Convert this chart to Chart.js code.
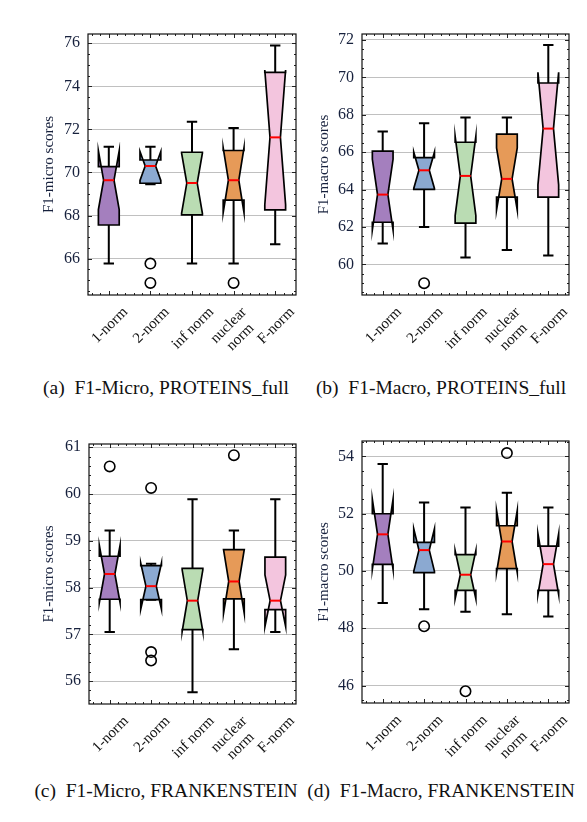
<!DOCTYPE html>
<html>
<head>
<meta charset="utf-8">
<script src="https://cdn.jsdelivr.net/npm/chart.js@4"></script>
<style>
  html, body { margin: 0; padding: 0; background: #fff; }
  body { width: 587px; height: 822px; position: relative; overflow: hidden; font-family: "Liberation Serif", serif; }
  canvas { position: absolute; }
  .caption { position: absolute; width: 290px; text-align: center; font-size: 19.5px; line-height: 22px; color: #111; white-space: pre; }
</style>
</head>
<body>
<canvas id="chartA" width="300" height="370" style="left:0;top:0"></canvas>
<canvas id="chartB" width="287" height="370" style="left:300px;top:0"></canvas>
<canvas id="chartC" width="300" height="370" style="left:0;top:410px"></canvas>
<canvas id="chartD" width="287" height="370" style="left:300px;top:410px"></canvas>
<div class="caption" style="left:21px;top:377px">(a)  F1-Micro, PROTEINS_full</div>
<div class="caption" style="left:296px;top:377px">(b)  F1-Macro, PROTEINS_full</div>
<div class="caption" style="left:21px;top:780px">(c)  F1-Micro, FRANKENSTEIN</div>
<div class="caption" style="left:296px;top:780px">(d)  F1-Macro, FRANKENSTEIN</div>
<script>
// categories (multi-line where the picture wraps)
const categories = [["1-norm"], ["2-norm"], ["inf norm"], ["nuclear", "norm"], ["F-norm"]];

// (a) F1-micro, PROTEINS_full
const protMicroWhiskerLo = [65.77, 69.45, 65.77, 65.77, 66.67];
const protMicroQ1 = [67.56, 69.50, 68.03, 68.72, 68.26];
const protMicroNotchLo = [68.28, 69.63, 68.10, 68.14, 68.50];
const protMicroMedian = [69.64, 70.30, 69.51, 69.64, 71.63];
const protMicroNotchHi = [71.00, 70.97, 70.90, 71.14, 74.76];
const protMicroQ3 = [70.27, 70.58, 70.94, 71.02, 74.65];
const protMicroWhiskerHi = [71.19, 71.19, 72.35, 72.07, 75.90];
const protMicroOutliers = [[], [65.77, 64.87], [], [64.87], []];
const protMicroTicks = [66, 68, 70, 72, 74, 76];

// (b) F1-macro, PROTEINS_full
const protMacroWhiskerLo = [61.11, 62.00, 60.36, 60.77, 60.47];
const protMacroQ1 = [62.25, 64.01, 62.20, 63.60, 63.59];
const protMacroNotchLo = [61.84, 64.06, 62.61, 62.91, 64.25];
const protMacroMedian = [63.73, 65.03, 64.73, 64.57, 67.26];
const protMacroNotchHi = [65.62, 66.00, 66.85, 66.23, 70.27];
const protMacroQ3 = [66.06, 65.71, 66.53, 66.97, 69.70];
const protMacroWhiskerHi = [67.10, 67.54, 67.86, 67.86, 71.73];
const protMacroOutliers = [[], [58.99], [], [], []];
const protMacroTicks = [60, 62, 64, 66, 68, 70, 72];

// (c) F1-micro, FRANKENSTEIN
const frankMicroWhiskerLo = [57.05, 57.74, 55.76, 56.68, 57.05];
const frankMicroQ1 = [57.75, 57.74, 57.10, 57.76, 57.53];
const frankMicroNotchLo = [57.68, 57.54, 57.06, 57.45, 57.17];
const frankMicroMedian = [58.29, 58.03, 57.72, 58.13, 57.72];
const frankMicroNotchHi = [58.90, 58.52, 58.38, 58.81, 58.27];
const frankMicroQ3 = [58.67, 58.47, 58.41, 58.81, 58.65];
const frankMicroWhiskerHi = [59.22, 58.51, 59.89, 59.22, 59.89];
const frankMicroOutliers = [[60.59], [60.13, 56.62, 56.44], [], [60.83], []];
const frankMicroTicks = [56, 57, 58, 59, 60, 61];

// (d) F1-macro, FRANKENSTEIN
const frankMacroWhiskerLo = [48.88, 48.66, 48.58, 48.49, 48.41];
const frankMacroQ1 = [50.23, 49.94, 49.32, 50.08, 49.32];
const frankMacroNotchLo = [50.06, 49.99, 49.03, 49.95, 49.18];
const frankMacroMedian = [51.28, 50.73, 49.87, 51.03, 50.24];
const frankMacroNotchHi = [52.50, 51.47, 50.71, 52.11, 51.30];
const frankMacroQ3 = [52.00, 51.00, 50.57, 51.58, 50.87];
const frankMacroWhiskerHi = [53.74, 52.39, 52.22, 52.73, 52.22];
const frankMacroOutliers = [[], [48.07], [45.80], [54.12], []];
const frankMacroTicks = [46, 48, 50, 52, 54];

const boxColors = ["#a47fbe", "#8ba9d1", "#badcb3", "#e69a58", "#f3c5de"];
const textColor = "#17213d";
const serif = "'Liberation Serif', 'DejaVu Serif', serif";

const statsById = {};

// notched boxes, whiskers, medians and fliers, all placed via the chart scales
const notchedBoxPlugin = {
  id: "notchedBox",
  afterDatasetsDraw(chart) {
    const s = statsById[chart.canvas.id];
    const ctx = chart.ctx;
    const x = chart.scales.x;
    const y = chart.scales.y;
    const step = x.getPixelForValue(1) - x.getPixelForValue(0);
    const hw = step * 0.25;
    const capW = step * 0.125;
    const py = (v) => y.getPixelForValue(v);
    ctx.save();
    s.median.forEach((med, i) => {
      const cx = x.getPixelForValue(i);
      ctx.strokeStyle = "#000";
      ctx.lineWidth = 2;
      ctx.lineCap = "butt";
      ctx.beginPath();
      ctx.moveTo(cx, py(s.q3[i]));
      ctx.lineTo(cx, py(s.whiskerHi[i]));
      ctx.moveTo(cx, py(s.q1[i]));
      ctx.lineTo(cx, py(s.whiskerLo[i]));
      ctx.moveTo(cx - capW, py(s.whiskerHi[i]));
      ctx.lineTo(cx + capW, py(s.whiskerHi[i]));
      ctx.moveTo(cx - capW, py(s.whiskerLo[i]));
      ctx.lineTo(cx + capW, py(s.whiskerLo[i]));
      ctx.stroke();

      // notched box path (flares when the notch passes the quartiles)
      ctx.beginPath();
      ctx.moveTo(cx - hw, py(s.q1[i]));
      ctx.lineTo(cx - hw, py(s.notchLo[i]));
      ctx.lineTo(cx - hw / 2, py(med));
      ctx.lineTo(cx - hw, py(s.notchHi[i]));
      ctx.lineTo(cx - hw, py(s.q3[i]));
      ctx.lineTo(cx + hw, py(s.q3[i]));
      ctx.lineTo(cx + hw, py(s.notchHi[i]));
      ctx.lineTo(cx + hw / 2, py(med));
      ctx.lineTo(cx + hw, py(s.notchLo[i]));
      ctx.lineTo(cx + hw, py(s.q1[i]));
      ctx.closePath();
      ctx.fillStyle = boxColors[i];
      ctx.fill();
      ctx.lineWidth = 1.7;
      ctx.lineJoin = "miter";
      ctx.miterLimit = 20;
      ctx.stroke();

      // median
      ctx.strokeStyle = "#ff0000";
      ctx.lineWidth = 2;
      ctx.beginPath();
      ctx.moveTo(cx - hw / 2, py(med));
      ctx.lineTo(cx + hw / 2, py(med));
      ctx.stroke();

      // outliers
      ctx.strokeStyle = "#000";
      ctx.lineWidth = 1.6;
      s.outliers[i].forEach((v) => {
        ctx.beginPath();
        ctx.arc(cx, py(v), 5.2, 0, Math.PI * 2);
        ctx.stroke();
      });
    });
    ctx.restore();
  },
};

// frame with inward major/minor ticks on all four sides + rotated x labels
const framePlugin = {
  id: "frameTicks",
  afterDraw(chart) {
    const s = statsById[chart.canvas.id];
    const ctx = chart.ctx;
    const { left, right, top, bottom } = chart.chartArea;
    const x = chart.scales.x;
    const y = chart.scales.y;
    ctx.save();
    ctx.strokeStyle = "#222";
    ctx.lineWidth = 1;
    ctx.beginPath();
    const majors = y.ticks.map((t) => t.value);
    majors.forEach((v) => {
      const p = Math.round(y.getPixelForValue(v)) + 0.5;
      ctx.moveTo(left, p); ctx.lineTo(left + 4, p);
      ctx.moveTo(right, p); ctx.lineTo(right - 4, p);
    });
    const n0 = Math.ceil(y.min / s.minor);
    const n1 = Math.floor(y.max / s.minor);
    for (let k = n0; k <= n1; k++) {
      const v = k * s.minor;
      if (majors.some((m) => Math.abs(m - v) < 1e-6)) continue;
      const p = Math.round(y.getPixelForValue(v)) + 0.5;
      ctx.moveTo(left, p); ctx.lineTo(left + 2, p);
      ctx.moveTo(right, p); ctx.lineTo(right - 2, p);
    }
    for (let k = -2; k <= 22; k++) {
      const v = k / 5;
      const p = Math.round(x.getPixelForValue(v)) + 0.5;
      const len = k % 5 === 0 ? 4 : 2;
      ctx.moveTo(p, bottom); ctx.lineTo(p, bottom - len);
      ctx.moveTo(p, top); ctx.lineTo(p, top + len);
    }
    ctx.stroke();
    ctx.lineWidth = 1.2;
    ctx.strokeStyle = "#111";
    ctx.strokeRect(left, top, right - left, bottom - top);

    // rotated category labels, centred under each tick
    const fs = 15;
    const lh = fs * 1.1;
    ctx.font = fs + "px " + serif;
    ctx.fillStyle = "#111";
    ctx.textAlign = "center";
    ctx.textBaseline = "middle";
    chart.data.labels.forEach((lines, i) => {
      const w = Math.max(...lines.map((t) => ctx.measureText(t).width));
      const h = lines.length * lh;
      const d = (w + h) * Math.SQRT1_2;
      const cx = x.getPixelForValue(i);
      ctx.save();
      ctx.translate(cx + 1, bottom + 9 + d / 2);
      ctx.rotate(-Math.PI / 4);
      lines.forEach((t, j) => ctx.fillText(t, 0, (j - (lines.length - 1) / 2) * lh));
      ctx.restore();
    });
    ctx.restore();
  },
};

function makePanel(id, cfg) {
  statsById[id] = cfg.stats;
  const canvas = document.getElementById(id);
  return new Chart(canvas, {
    type: "bar",
    data: { labels: categories, datasets: [] },
    options: {
      responsive: false,
      animation: false,
      layout: { padding: { left: 0, top: cfg.area.top, right: canvas.width - cfg.area.right, bottom: 0 } },
      plugins: { legend: { display: false }, tooltip: { enabled: false } },
      scales: {
        x: {
          offset: true,
          grid: { display: false },
          border: { display: false },
          ticks: { display: false },
          afterFit: (sc) => { sc.height = canvas.height - cfg.area.bottom; },
        },
        y: {
          min: cfg.yMin,
          max: cfg.yMax,
          grid: { color: "#c0c0c0", lineWidth: 1, drawTicks: false },
          border: { display: false },
          ticks: { font: { family: serif, size: 16 }, color: textColor, padding: 8 },
          afterBuildTicks: (sc) => { sc.ticks = cfg.ticks.map((v) => ({ value: v })); },
          afterFit: (sc) => { sc.width = cfg.area.left; },
          title: {
            display: true,
            text: cfg.title,
            color: textColor,
            font: { family: serif, size: 15 },
            padding: { top: cfg.titleX - 9, bottom: 0 },
          },
        },
      },
    },
    plugins: [notchedBoxPlugin, framePlugin],
  });
}

makePanel("chartA", {
  area: { left: 88, top: 34, right: 296, bottom: 295 },
  yMin: 64.31, yMax: 76.43, ticks: protMicroTicks, title: "F1-micro scores", titleX: 49,
  stats: { whiskerLo: protMicroWhiskerLo, q1: protMicroQ1, notchLo: protMicroNotchLo, median: protMicroMedian,
    notchHi: protMicroNotchHi, q3: protMicroQ3, whiskerHi: protMicroWhiskerHi, outliers: protMicroOutliers, minor: 0.5 },
});

makePanel("chartB", {
  area: { left: 62, top: 34, right: 269, bottom: 295 },
  yMin: 58.36, yMax: 72.32, ticks: protMacroTicks, title: "F1-macro scores", titleX: 24,
  stats: { whiskerLo: protMacroWhiskerLo, q1: protMacroQ1, notchLo: protMacroNotchLo, median: protMacroMedian,
    notchHi: protMacroNotchHi, q3: protMacroQ3, whiskerHi: protMacroWhiskerHi, outliers: protMacroOutliers, minor: 0.5 },
});

makePanel("chartC", {
  area: { left: 89, top: 34, right: 296, bottom: 294 },
  yMin: 55.51, yMax: 61.07, ticks: frankMicroTicks, title: "F1-micro scores", titleX: 49,
  stats: { whiskerLo: frankMicroWhiskerLo, q1: frankMicroQ1, notchLo: frankMicroNotchLo, median: frankMicroMedian,
    notchHi: frankMicroNotchHi, q3: frankMicroQ3, whiskerHi: frankMicroWhiskerHi, outliers: frankMicroOutliers, minor: 0.2 },
});

makePanel("chartD", {
  area: { left: 62, top: 31, right: 269, bottom: 293 },
  yMin: 45.39, yMax: 54.54, ticks: frankMacroTicks, title: "F1-macro scores", titleX: 24,
  stats: { whiskerLo: frankMacroWhiskerLo, q1: frankMacroQ1, notchLo: frankMacroNotchLo, median: frankMacroMedian,
    notchHi: frankMacroNotchHi, q3: frankMacroQ3, whiskerHi: frankMacroWhiskerHi, outliers: frankMacroOutliers, minor: 0.5 },
});
</script>
</body>
</html>
